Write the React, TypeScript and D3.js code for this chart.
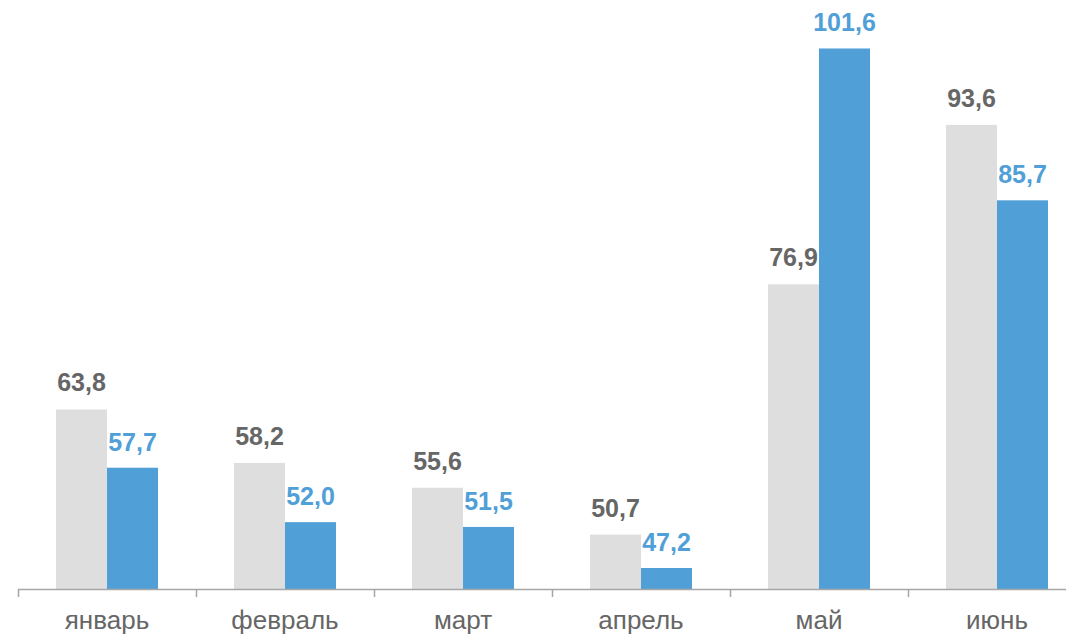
import React from "react";
import * as d3 from "d3";

const categories = ["январь", "февраль", "март", "апрель", "май", "июнь"];
const seriesPrev = [63.8, 58.2, 55.6, 50.7, 76.9, 93.6];
const seriesCurr = [57.7, 52.0, 51.5, 47.2, 101.6, 85.7];

const W = 1066;
const H = 636;
const x0 = 18;
const step = 178;
const baseY = 589;
const yMin = 45;
const pxPerUnit = 9.55;

export default function App() {
  const x = d3
    .scaleBand<string>()
    .domain(categories)
    .range([x0, x0 + step * categories.length])
    .paddingInner(0)
    .paddingOuter(0);
  const y = d3
    .scaleLinear()
    .domain([yMin, yMin + baseY / pxPerUnit])
    .range([baseY, 0]);
  const barW = 51;
  const fmt = (v: number) => v.toFixed(1).replace(".", ",");
  const font = "'Liberation Sans', Arial, sans-serif";

  return (
    <svg
      width={W}
      height={H}
      style={{ position: "absolute", left: 0, top: 0, display: "block" }}
    >
      <rect width={W} height={H} fill="#fff" />
      {categories.map((c, i) => {
        const cx = (x(c) as number) + x.bandwidth() / 2;
        const vp = seriesPrev[i];
        const vc = seriesCurr[i];
        return (
          <g key={c}>
            <rect x={cx - barW} y={y(vp)} width={barW} height={baseY - y(vp)} fill="#DEDEDE" />
            <rect x={cx} y={y(vc)} width={barW} height={baseY - y(vc)} fill="#519FD7" />
            <text
              x={cx - barW / 2}
              y={y(vp) - 18}
              textAnchor="middle"
              fontFamily={font}
              fontWeight="bold"
              fontSize={25}
              fill="#666666"
            >
              {fmt(vp)}
            </text>
            <text
              x={cx + barW / 2}
              y={y(vc) - 17}
              textAnchor="middle"
              fontFamily={font}
              fontWeight="bold"
              fontSize={25}
              fill="#519FD7"
            >
              {fmt(vc)}
            </text>
            <text
              x={cx}
              y={629}
              textAnchor="middle"
              fontFamily={font}
              fontSize={26}
              fill="#666666"
            >
              {c}
            </text>
          </g>
        );
      })}
      <line x1={x0} x2={W} y1={baseY + 0.5} y2={baseY + 0.5} stroke="#A6A6A6" strokeWidth={1.5} />
      {categories.map((c) => (
        <line
          key={"t" + c}
          x1={(x(c) as number) + 0.5}
          x2={(x(c) as number) + 0.5}
          y1={baseY}
          y2={baseY + 8}
          stroke="#A6A6A6"
          strokeWidth={1.5}
        />
      ))}
    </svg>
  );
}
